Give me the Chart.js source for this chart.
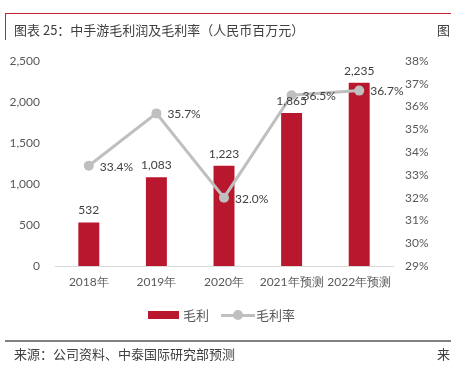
<!DOCTYPE html>
<html><head><meta charset="utf-8">
<script src="https://cdn.jsdelivr.net/npm/chart.js@4"></script>
<style>
html,body{margin:0;padding:0;background:#fff;width:451px;height:367px;overflow:hidden;font-family:"Noto Sans CJK SC",sans-serif;}
#wrap{position:relative;width:451px;height:367px;}
canvas{position:absolute;left:0;top:0;}
.abs{position:absolute;white-space:nowrap;}
</style></head><body>
<div id="wrap">
<canvas id="c" width="451" height="367"></canvas>
<div class="abs" style="left:5px;top:13px;width:446px;height:1px;background:#c8202f"></div>
<div class="abs" style="left:5px;top:13px;width:1px;height:27px;background:#c8202f"></div>
<div class="abs" style="left:14px;top:20px;font-size:13px;color:#404040;">图表 25：中手游毛利润及毛利率（人民币百万元）</div>
<div class="abs" style="left:437px;top:20px;font-size:13px;color:#404040;">图</div>
<div class="abs" style="left:148px;top:311px;width:31px;height:8px;background:#b8172e"></div>
<div class="abs" style="left:183px;top:305px;font-size:13px;color:#595959;">毛利</div>
<div class="abs" style="left:221px;top:314px;width:34px;height:3px;background:#bfbfbf"></div>
<div class="abs" style="left:233px;top:310px;width:10px;height:10px;border-radius:50%;background:#bfbfbf"></div>
<div class="abs" style="left:256px;top:305px;font-size:13px;color:#595959;">毛利率</div>
<div class="abs" style="left:5px;top:340px;width:446px;height:2px;background:#808080"></div>
<div class="abs" style="left:14px;top:344px;font-size:13px;color:#404040;">来源：公司资料、中泰国际研究部预测</div>
<div class="abs" style="left:437px;top:344px;font-size:13px;color:#404040;">来</div>
</div>
<script>
const categories = ["2018年","2019年","2020年","2021年预测","2022年预测"];
const grossProfit = [532, 1083, 1223, 1865, 2235];
const grossMargin = [33.4, 35.7, 32.0, 36.5, 36.7];
const leftTicks = [0, 500, 1000, 1500, 2000, 2500];
const rightTicks = [29, 30, 31, 32, 33, 34, 35, 36, 37, 38];

const FONT = "Lato, 'Liberation Sans', sans-serif";
const labelPlugin = {
  id: 'valLabels',
  afterDatasetsDraw(chart) {
    const ctx = chart.ctx;
    ctx.save();
    ctx.font = "12px " + FONT;
    ctx.fillStyle = "#404040";
    const barMeta = chart.getDatasetMeta(0);
    ctx.textAlign = "center"; ctx.textBaseline = "bottom";
    barMeta.data.forEach((el, i) => {
      ctx.fillText(grossProfit[i].toLocaleString('en-US'), el.x, el.y - 6);
    });
    const lineMeta = chart.getDatasetMeta(1);
    ctx.textAlign = "left"; ctx.textBaseline = "middle";
    lineMeta.data.forEach((el, i) => {
      ctx.fillText(grossMargin[i].toFixed(1) + "%", el.x + 11, el.y + 1);
    });
    ctx.restore();
  }
};

new Chart(document.getElementById('c'), {
  type: 'bar',
  data: {
    labels: categories,
    datasets: [
      { type: 'bar', label: '毛利', data: grossProfit, backgroundColor: '#b8172e', yAxisID: 'y', barPercentage: 0.62, categoryPercentage: 0.5, order: 2 },
      { type: 'line', label: '毛利率', data: grossMargin, borderColor: '#bfbfbf', backgroundColor: '#bfbfbf', borderWidth: 3, pointRadius: 5, pointHoverRadius: 5, pointBackgroundColor: '#bfbfbf', pointBorderWidth: 0, yAxisID: 'y1', tension: 0, order: 1 }
    ]
  },
  options: {
    responsive: false, animation: false, devicePixelRatio: 1,
    layout: { padding: { top: 61, right: 0, left: 0, bottom: 0 } },
    plugins: { legend: { display: false }, tooltip: { enabled: false } },
    scales: {
      x: {
        grid: { display: false, drawTicks: false },
        border: { display: true, color: '#d9d9d9', width: 1 },
        ticks: { color: '#595959', font: { size: 12, family: FONT }, padding: 9, maxRotation: 0, autoSkip: false },
        afterFit(s) { s.height = 101; }
      },
      y: {
        position: 'left', min: 0, max: 2500,
        grid: { display: false, drawTicks: false },
        border: { display: false },
        afterBuildTicks(s) { s.ticks = leftTicks.map(v => ({ value: v })); },
        ticks: { color: '#595959', font: { size: 12, family: FONT }, padding: 15, callback: v => v.toLocaleString('en-US') },
        afterFit(s) { s.width = 55; }
      },
      y1: {
        position: 'right', min: 29, max: 38,
        grid: { display: false, drawTicks: false },
        border: { display: false },
        afterBuildTicks(s) { s.ticks = rightTicks.map(v => ({ value: v })); },
        ticks: { color: '#595959', font: { size: 12, family: FONT }, padding: 12, callback: v => v + '%' },
        afterFit(s) { s.width = 58; }
      }
    }
  },
  plugins: [labelPlugin]
});
</script>
</body></html>
